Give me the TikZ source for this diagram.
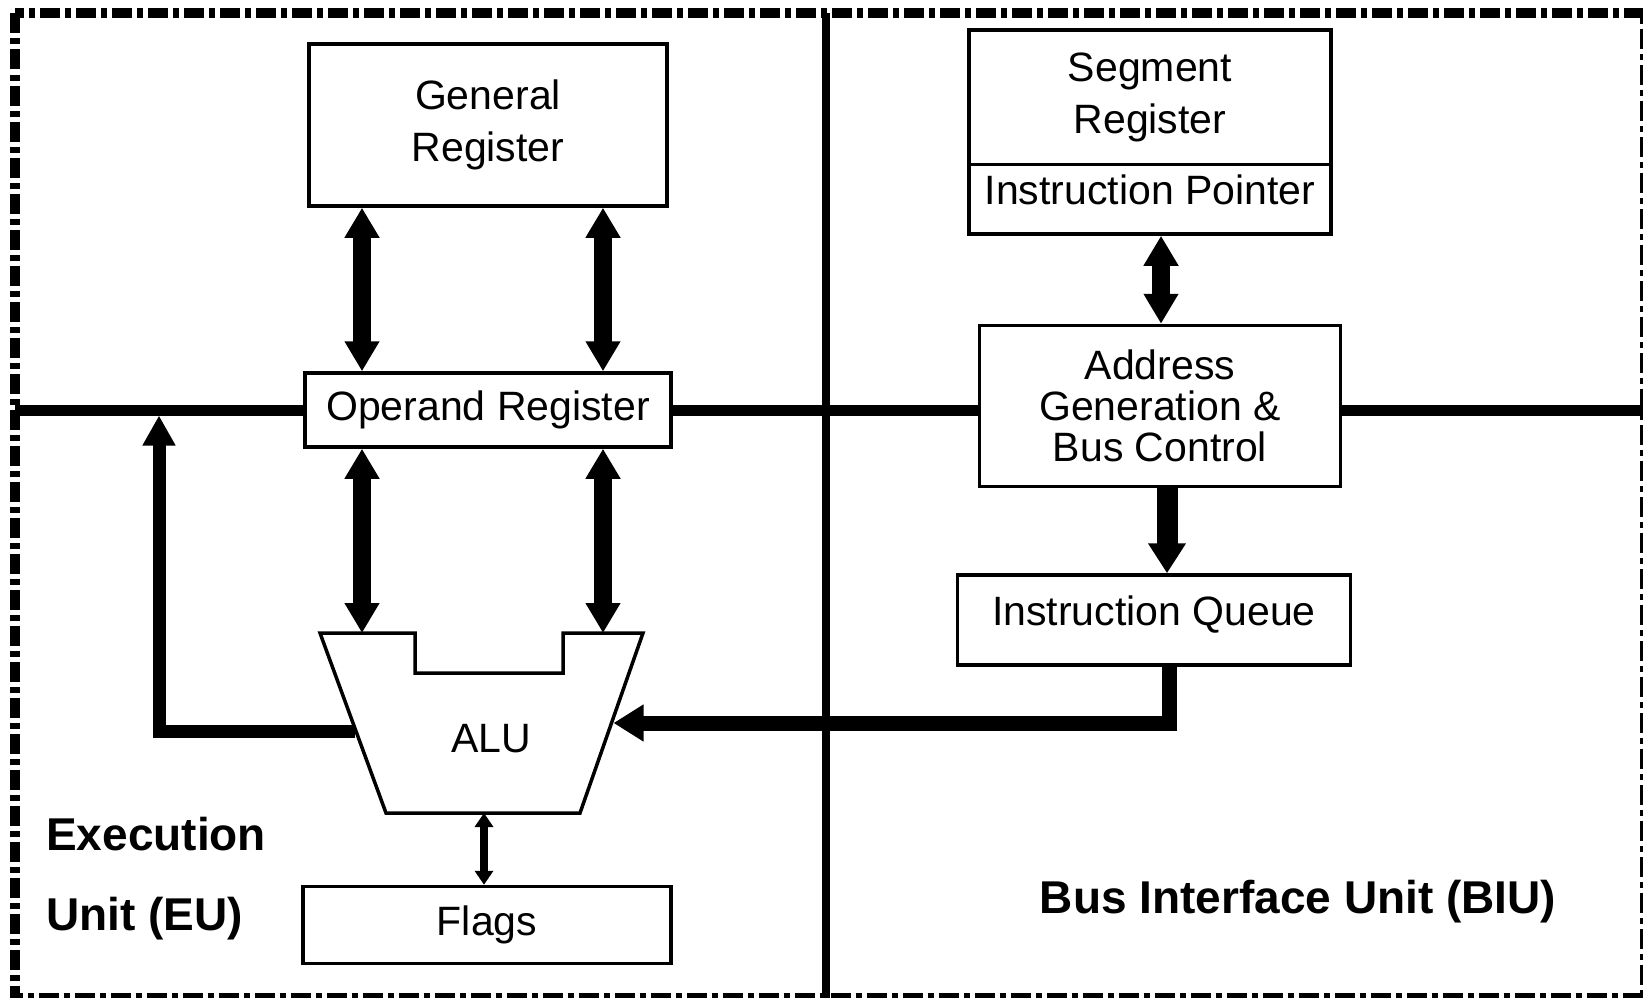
\documentclass[tikz,border=0pt]{standalone}
\usepackage{fontspec}
\setmainfont{Liberation Sans}
\usetikzlibrary{arrows.meta,calc}

\begin{document}
\begin{tikzpicture}[x=1pt,y=-1pt,
  box/.style={draw, line width=3.5pt, inner sep=0pt, align=center,
    font=\fontsize{41}{52}\selectfont},
  outline/.style={draw, line width=3.5pt, line join=miter},
  unitlabel/.style={font=\fontsize{46}{80}\selectfont\bfseries, inner sep=0pt},
  frame/.style={line width=10pt, dash pattern=on 20pt off 5pt on 6pt off 5pt},
  divider/.style={line width=8pt},
  bus/.style={line width=11pt},
  wide/.style={line width=18pt, >={Triangle[width=33pt,length=30pt]}},
  feed/.style={line width=13pt, >={Triangle[width=31pt,length=30pt]}},
  queueline/.style={line width=15pt, >={Triangle[width=35pt,length=30pt]}},
  flagline/.style={line width=8pt, >={Triangle[width=18pt,length=14pt]}}
]
\useasboundingbox (0,0) rectangle (1643,998);

% dash-dotted outer frame and the EU / BIU divider
\draw[frame] (15,13.5) rectangle (1645,998);
\coordinate (divT) at (826,13);
\coordinate (divB) at (826,998);
\draw[divider] (divT) -- (divB);

% execution unit blocks
\node[box, minimum width=358pt, minimum height=162pt] (gr) at (488,125) {General\\Register};
\node[box, minimum width=366pt, minimum height=74pt] (opr) at (488,410) {Operand Register};
\node[box, minimum width=368pt, minimum height=77pt] (flags) at (487,925) {Flags};

% ALU outline with the notch on top
\coordinate (a1) at (320,633);
\coordinate (a2) at (415,633);
\coordinate (a3) at (415,673);
\coordinate (a4) at (563,673);
\coordinate (a5) at (563,633);
\coordinate (a6) at (643,633);
\coordinate (a7) at (580,813);
\coordinate (a8) at (386,813);
\draw[outline] (a1) -- (a2) -- (a3) -- (a4) -- (a5) -- (a6) -- (a7) -- (a8) -- cycle;
\node[font=\fontsize{41}{52}\selectfont] (alu) at (491,739) {ALU};

% bus interface unit blocks
\node[box, minimum width=362pt, minimum height=134.5pt] (seg) at (1150,97.25) {Segment\\Register};
\node[box, minimum width=362pt, minimum height=69.5pt, text depth=19pt] (ip) at (1150,199.25) {Instruction Pointer};
\node[box, minimum width=361pt, minimum height=161pt, font=\fontsize{41}{41}\selectfont] (agb) at (1160,406) {Address\\Generation \&\\Bus Control};
\node[box, minimum width=393pt, minimum height=90pt, text depth=19pt] (iq) at (1154,620) {Instruction Queue};

% internal bus
\coordinate (busL) at (15,410);
\coordinate (busR) at (1643,410);
\draw[bus] (busL) -- (busL -| opr.west);
\draw[bus] (busL -| opr.east) -- (busL -| agb.west);
\draw[bus] (busL -| agb.east) -- (busR);

% data paths
\coordinate (ax1) at (362,0);
\coordinate (ax2) at (603,0);
\draw[wide, <->] (gr.south -| ax1) -- (opr.north -| ax1);
\draw[wide, <->] (gr.south -| ax2) -- (opr.north -| ax2);
\draw[wide, <->] (opr.south -| ax1) -- (ax1 |- a1);
\draw[wide, <->] (opr.south -| ax2) -- (ax2 |- a1);

\coordinate (sx) at (1161,0);
\coordinate (qx) at (1167,0);
\draw[wide, <->] (ip.south -| sx) -- (agb.north -| sx);
\draw[wide, line width=21pt, >={Triangle[width=36pt,length=30pt]}, ->] (agb.south -| qx) -- (iq.north -| qx);

% ALU result back to the bus
\coordinate (aluL) at (355,731);
\coordinate (fbTop) at (159,415.5);
\draw[feed, ->] (aluL) -| (fbTop);

% instruction queue into the ALU
\coordinate (ox) at (1169,0);
\coordinate (aluR) at (613.5,723);
\draw[queueline, ->] (iq.south -| ox) |- (aluR);

% ALU <-> flags
\coordinate (fx) at (484,813);
\draw[flagline, <->] (fx) -- (flags.north -| fx);

% unit labels
\node[unitlabel, anchor=west, align=left] (eu) at (46,879) {Execution\\Unit (EU)};
\node[unitlabel] (biu) at (1298,902) {Bus Interface Unit (BIU)};
\end{tikzpicture}
\end{document}
